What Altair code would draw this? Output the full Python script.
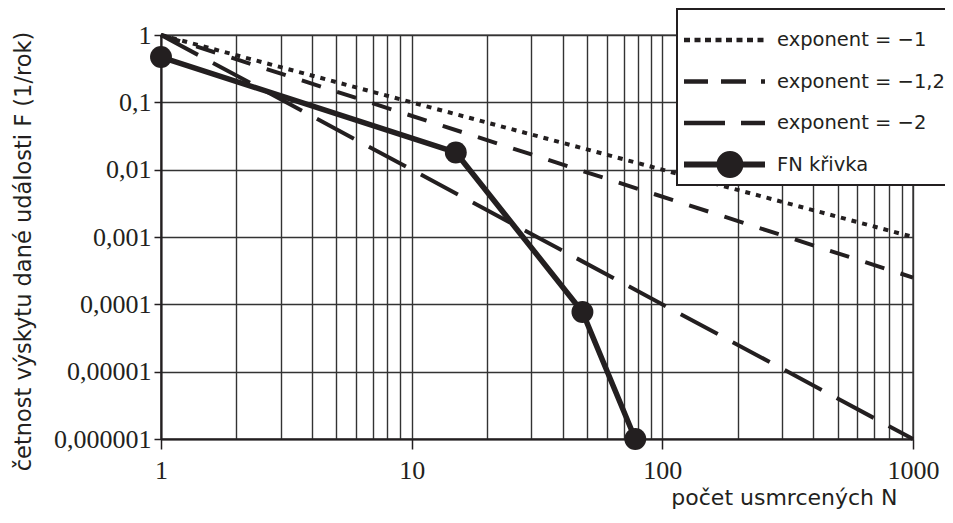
import altair as alt
import pandas as pd

# ---- data ----
ref_labels = ["exponent = −1", "exponent = −1,2", "exponent = −2"]
ref_N = [1, 1000]
ref_F = {
    "exponent = −1": [1, 0.001],
    "exponent = −1,2": [1, 0.00025],
    "exponent = −2": [1, 0.000001],
}
fn_label = "FN křivka"
fn_N = [1, 15, 48, 78]
fn_F = [0.47, 0.018, 0.000077, 0.000001]

x_ticks = [1, 2, 3, 4, 5, 6, 7, 8, 9, 10, 20, 30, 40, 50, 60, 70, 80, 90,
           100, 200, 300, 400, 500, 600, 700, 800, 900, 1000]
x_major = [1, 10, 100, 1000]
x_labels = ["1", "10", "100", "1000"]
y_ticks = [1, 0.1, 0.01, 0.001, 0.0001, 0.00001, 0.000001]
y_labels = ["1", "0,1", "0,01", "0,001", "0,0001", "0,00001", "0,000001"]

x_title = "počet usmrcených N"
y_title = "četnost výskytu dané události F (1/rok)"

legend_labels = ref_labels + [fn_label]

INK = "#231f20"
W, H = 752, 404

ref_rows = []
for lab in ref_labels:
    for n, f in zip(ref_N, ref_F[lab]):
        ref_rows.append({"series": lab, "N": n, "F": f})
ref_df = pd.DataFrame(ref_rows)
fn_df = pd.DataFrame({"series": fn_label, "N": fn_N, "F": fn_F})
leg_df = pd.DataFrame({"series": legend_labels})

xscale = alt.Scale(type="log", domain=[1, 1000], nice=False)
yscale = alt.Scale(type="log", domain=[0.000001, 1], nice=False)

major_list = "[" + ",".join(str(v) for v in x_major) + "]"
xlab_list = "[" + ",".join("'" + s + "'" for s in x_labels) + "]"
ylab_list = "[" + ",".join("'" + s + "'" for s in y_labels) + "]"

x_axis = alt.Axis(
    values=x_ticks,
    labelExpr=f"indexof({major_list}, datum.value) >= 0 ? {xlab_list}[indexof({major_list}, datum.value)] : ''",
    labelOverlap=False, labelFlush=False, labelBound=False,
    tickSize=10, tickWidth=1.5, tickColor=INK,
    tickOpacity={"condition": {"test": f"indexof({major_list}, datum.value) >= 0", "value": 1}, "value": 0},
    grid=True, gridColor="#333333", gridWidth=1.4,
    domainColor=INK, domainWidth=2,
    labelFont="Liberation Serif", labelFontSize=26, labelColor=INK, labelPadding=8,
    title=x_title, titleFont="DejaVu Sans", titleFontSize=22, titleFontWeight="normal",
    titleColor=INK, titleAnchor="end", titleAlign="right", titleBaseline="middle",
    titleX=W - 16, titleY=58,
)
y_axis = alt.Axis(
    values=y_ticks,
    labelExpr=f"{ylab_list}[round(-log(datum.value)/LN10)]",
    labelOverlap=False, labelFlush=False, labelBound=False,
    tickSize=7, tickWidth=1.5, tickColor=INK,
    grid=True, gridColor="#333333", gridWidth=1.4,
    domainColor=INK, domainWidth=2,
    labelFont="Liberation Serif", labelFontSize=26, labelColor=INK, labelPadding=3,
    title=y_title, titleFont="DejaVu Sans", titleFontSize=22.5, titleFontWeight="normal",
    titleColor=INK, titleAngle=270, titleAlign="center", titleBaseline="middle",
    titleX=-138, titleY=216,
)

X = alt.X("N:Q", scale=xscale, axis=x_axis)
Y = alt.Y("F:Q", scale=yscale, axis=y_axis)

ref_lines = alt.Chart(ref_df).mark_line(strokeWidth=4, color=INK).encode(
    x=X,
    y=Y,
    strokeDash=alt.StrokeDash(
        "series:N",
        scale=alt.Scale(domain=ref_labels, range=[[5, 6], [20, 17], [42, 17]]),
        legend=None,
    ),
    detail="series:N",
)

fn_line = alt.Chart(fn_df).mark_line(strokeWidth=5.5, color=INK).encode(x=X, y=Y)
fn_pts = alt.Chart(fn_df).mark_point(filled=True, color=INK, size=480, opacity=1, shape="circle").encode(x=X, y=Y)

# legend symbols drawn as filled custom paths (1 unit = 10 px)
def rect(x0, x1, h):
    return f"M{x0:.2f},{-h:.2f}H{x1:.2f}V{h:.2f}H{x0:.2f}Z"

def dots(x0, x1, period, length, h):
    parts = []
    x = x0
    while x + length <= x1 + 1e-9:
        parts.append(rect(x, x + length, h))
        x += period
    return "".join(parts)

pad_bounds = "M0,-1.35M0,1.35"
sym_dot = dots(-1.0, 7.1, 1.05, 0.6, 0.22) + pad_bounds
sym_d12 = rect(-1, 1.4, 0.22) + rect(2.7, 5.2, 0.22) + rect(6.7, 7.1, 0.22) + pad_bounds
sym_d2 = rect(-1, 3.1, 0.22) + rect(4.7, 7.1, 0.22) + pad_bounds
sym_fn = rect(-1, 7.1, 0.3) + "M4.95,0A1.35,1.35 0 1,1 2.25,0A1.35,1.35 0 1,1 4.95,0Z"

legend_layer = alt.Chart(leg_df).transform_filter("false").mark_point(
    filled=True, color=INK, opacity=1
).encode(
    shape=alt.Shape(
        "series:N",
        scale=alt.Scale(domain=legend_labels, range=[sym_dot, sym_d12, sym_d2, sym_fn]),
        legend=alt.Legend(
            title=" ", titleFontSize=8, titlePadding=6,
            orient="none", legendX=516, legendY=-26,
            symbolSize=400, symbolStrokeWidth=0, symbolFillColor=INK,
            labelFont="DejaVu Sans", labelFontSize=19.5, labelColor=INK, labelOffset=73,
            padding=7, rowPadding=13.5, strokeColor=INK, fillColor="white",
            labelLimit=400,
        ),
    ),
)

chart = alt.layer(ref_lines, fn_line, fn_pts, legend_layer).properties(
    width=W, height=H,
    background="white",
    autosize=alt.AutoSizeParams(type="none"),
    padding={"left": 153, "top": 27, "right": 945 - 8 - 153 - W, "bottom": 76},
).configure_view(stroke=INK, strokeWidth=1.4).configure_legend(strokeWidth=2)

chart.save("out.html", embed_options={"renderer": "svg", "actions": False})
